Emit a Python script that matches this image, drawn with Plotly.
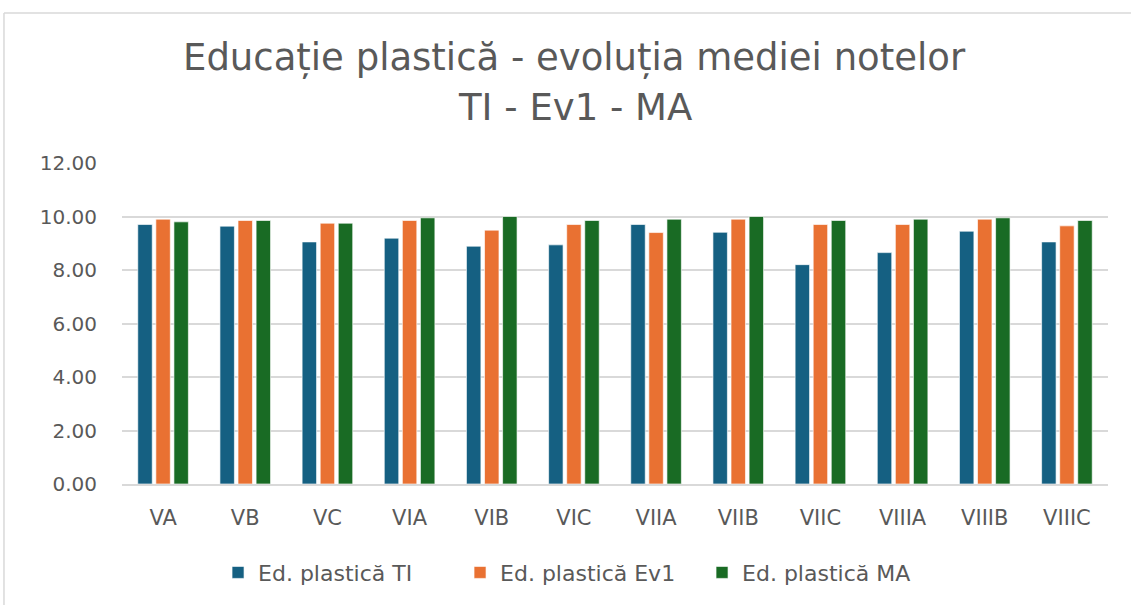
import plotly.graph_objects as go

categories = ["VA", "VB", "VC", "VIA", "VIB", "VIC", "VIIA", "VIIB", "VIIC", "VIIIA", "VIIIB", "VIIIC"]
ti_values = [9.70, 9.64, 9.05, 9.19, 8.89, 8.94, 9.70, 9.41, 8.20, 8.65, 9.45, 9.05]
ev1_values = [9.90, 9.85, 9.75, 9.85, 9.49, 9.70, 9.40, 9.90, 9.70, 9.70, 9.90, 9.65]
ma_values = [9.80, 9.85, 9.75, 9.95, 10.00, 9.85, 9.90, 10.00, 9.85, 9.90, 9.95, 9.85]
series_names = ["Ed. plastică TI", "Ed. plastică Ev1", "Ed. plastică MA"]
series_colors = ["#156082", "#E97132", "#196B24"]
title_line1 = "Educație plastică - evoluția mediei notelor"
title_line2 = "TI - Ev1 - MA"

FONT = "DejaVu Sans"
GRAY = "#595959"
GRID = "#d9d9d9"

fig = go.Figure()
for name, vals, col in zip(series_names, [ti_values, ev1_values, ma_values], series_colors):
    fig.add_trace(go.Bar(
        x=categories, y=vals, name=name,
        marker=dict(color=col, line=dict(color="rgba(255,255,255,0.8)", width=0.8)),
    ))

fig.update_layout(
    width=1131, height=605,
    paper_bgcolor="white", plot_bgcolor="white",
    margin=dict(l=122, r=23, t=163, b=119),
    barmode="group", bargap=0.34, bargroupgap=0.2,
    font=dict(family=FONT, color=GRAY),
    showlegend=True,
    legend=dict(
        orientation="h", x=0.0974, xanchor="left", y=-0.276, yanchor="middle",
        font=dict(family=FONT, size=22, color=GRAY),
        itemwidth=30, entrywidth=197, entrywidthmode="pixels",
    ),
    annotations=[
        dict(text=title_line1, xref="paper", yref="paper", x=0.4594, y=1.328,
             xanchor="center", yanchor="middle", showarrow=False,
             font=dict(family=FONT, size=37, color=GRAY)),
        dict(text=title_line2, xref="paper", yref="paper", x=0.4594, y=1.1734,
             xanchor="center", yanchor="middle", showarrow=False,
             font=dict(family=FONT, size=37, color=GRAY)),
    ],
    shapes=[
        dict(type="line", xref="paper", yref="paper", x0=-0.1197, x1=1.04, y0=1.4675, y1=1.4675,
             line=dict(color=GRID, width=1.5)),
        dict(type="line", xref="paper", yref="paper", x0=-0.1197, x1=-0.1197, y0=1.4675, y1=-0.4,
             line=dict(color=GRID, width=1.5)),
    ],
)

fig.update_xaxes(
    showgrid=False, showline=True, linecolor=GRID, linewidth=1.5,
    tickfont=dict(family=FONT, size=21, color=GRAY), ticks="",
    ticklabelstandoff=14,
)
fig.update_yaxes(
    range=[0, 12], dtick=2, tickformat=".2f",
    showgrid=True, gridcolor=GRID, gridwidth=1.5, zeroline=False, showline=False,
    tickfont=dict(family=FONT, size=20, color=GRAY), ticks="",
    ticklabelstandoff=24,
)

fig.write_html(
    "out.html",
    config={"displayModeBar": False},
    post_script="document.body.style.margin='0px';document.body.style.overflow='hidden';",
)
